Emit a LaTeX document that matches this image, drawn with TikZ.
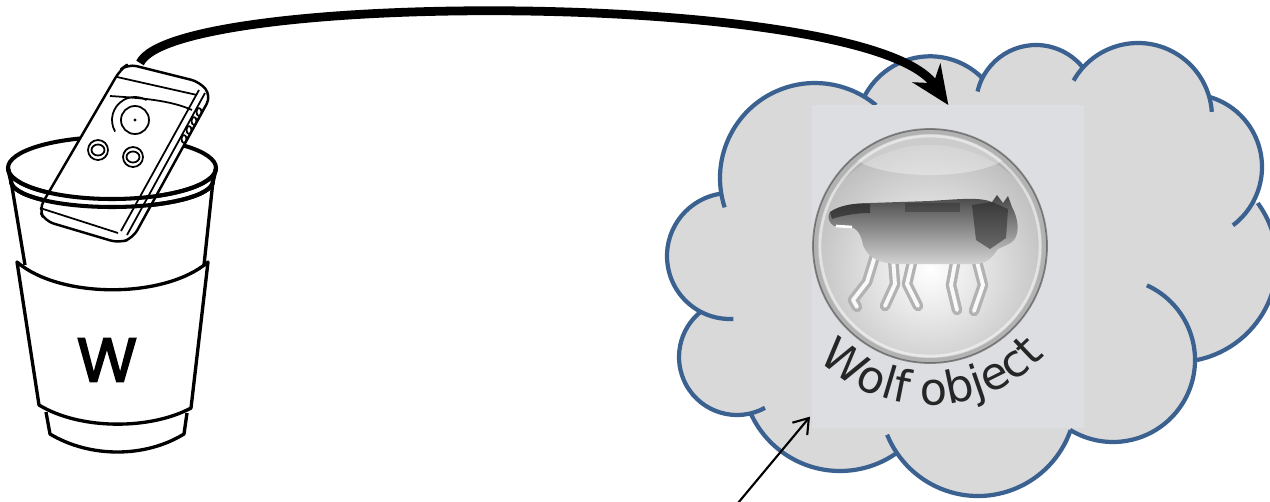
\documentclass[tikz,border=0pt]{standalone}
\usepackage{fontspec}
\newfontfamily\cupfont{Poppins}[BoldFont=Poppins, BoldFeatures={FakeBold=3}]
\newfontfamily\labelfont{DejaVu Sans}
\usetikzlibrary{arrows.meta,decorations.text,calc}
\definecolor{cloudfill}{HTML}{D9D9D9}
\definecolor{cloudedge}{HTML}{3A6190}
\definecolor{cardfill}{HTML}{DDDEE1}
\tikzset{
  cupline/.style={line width=1.9pt, line join=round},
  rimline/.style={line width=2.3pt},
  remoteline/.style={line width=1pt, line join=round},
  cloudline/.style={draw=cloudedge, line width=2.4pt},
  bigarrow/.style={line width=5pt, -{Stealth[length=22pt,width=19pt,inset=7pt]}},
  pointer/.style={line width=1.2pt, -{Straight Barb[length=8pt,width=11pt]}},
  leg/.style={line width=6pt, line cap=round, line join=round, draw=gray!60},
  legcore/.style={line width=2.2pt, line cap=round, line join=round, draw=white!95!gray},
}
\begin{document}
\begin{tikzpicture}[x=0.02cm,y=-0.02cm]
\useasboundingbox (0,0) rectangle (1270,501);
\clip (0,0) rectangle (1270,501);

% ---------- cup ----------
\draw[cupline] (11,181) -- (25,265);
\draw[cupline] (213,181) -- (204,265);
\draw[cupline, fill=white] (17,262) .. controls (60,299) and (165,299) .. (208,262)
  -- (191,408) .. controls (150,430) and (80,430) .. (39,405) -- cycle;
\draw[cupline] (46,412) -- (50,434) .. controls (90,458) and (145,458) .. (184,434) -- (187,413);
\node[font=\cupfont\bfseries\fontsize{35}{35}\selectfont, inner sep=0] (cupletter) at (107,360) {W};
% rim
\draw[rimline] (112,168) ellipse[x radius=104, y radius=31];
\draw[rimline] (8,168) -- (11,181) arc[start angle=180, end angle=0, x radius=101, y radius=26] -- (216,168);

% ---------- remote ----------
\begin{scope}[remoteline]
  \filldraw[fill=white, rounded corners=5, line width=1.4pt] (120,70) -- (128,64) -- (200,82) -- (211,96)
    -- (133,238) -- (119,243) -- (45,221) -- (39,209) -- cycle;
  \draw (199,90) -- (121,231);
  \draw (205,93) -- (127,235);
  \draw (117,77) -- (197,95);
  \draw (110,96) .. controls (140,98) and (170,100) .. (192,110);
  \draw (135,120) circle[radius=14];
  \fill (135,120) circle[radius=1.6];
  \draw ([shift={(135,120)}]150:23) arc[start angle=150, end angle=300, radius=23];
  \draw (98,150) circle[radius=10];
  \draw (98,150) ellipse[x radius=6.5, y radius=5.5];
  \draw (133,157) circle[radius=10];
  \draw (133,157) ellipse[x radius=6.5, y radius=5.5];
  \foreach \p in {(199,112),(194,121),(189,130),(184,139)}
    \draw \p ellipse[x radius=2.5, y radius=4];
  \draw (40,208) -- (118,233);
\end{scope}
% front of the rim passes over the remote
\draw[rimline] (8,168) arc[start angle=180, end angle=0, x radius=104, y radius=31];
\draw[rimline] (11,181) arc[start angle=180, end angle=0, x radius=101, y radius=26];
\coordinate (remotetip) at (140,63);

% ---------- cloud ----------
\fill[cloudfill]
  ([shift={(815,178)}]169.6:95) arc[start angle=169.6,end angle=303.5,radius=95]
  -- ([shift={(930,130)}]208.3:73.7) arc[start angle=208.3,end angle=315,radius=73.7]
  -- ([shift={(1036,105)}]206.6:60) arc[start angle=206.6,end angle=322,radius=60]
  -- ([shift={(1138,117)}]223.3:74) arc[start angle=223.3,end angle=346.4,radius=74]
  -- ([shift={(1189,167)}]285.8:73) arc[start angle=285.8,end angle=387.6,radius=73]
  -- ([shift={(1177,262)}]323.9:100) arc[start angle=323.9,end angle=438.5,radius=100]
  -- ([shift={(1113,360)}]0:82) arc[start angle=0,end angle=121.6,radius=82]
  -- ([shift={(978,398)}]19.2:98) arc[start angle=19.2,end angle=144.5,radius=98]
  -- ([shift={(840,373)}]54.7:98) arc[start angle=54.7,end angle=156.6,radius=98]
  -- ([shift={(737,357)}]76.7:58) arc[start angle=76.7,end angle=231.5,radius=58]
  -- ([shift={(730,256)}]121.6:63) arc[start angle=121.6,end angle=262.5,radius=63]
  -- cycle;
\foreach \cx/\cy/\r/\a/\b in {815/178/95/162/310, 930/130/73.7/206/315,
    1036/105/60/193/322, 1138/117/74/209.5/356, 1189/167/73/285.8/413,
    1177/262/100/323.9/438.5, 1113/360/82/-65.6/121.6, 978/398/98/19.2/158,
    840/373/98/54.7/156.6, 737/357/58/61.2/231.5, 730/256/63/87/262.5}
  \draw[cloudline] ([shift={(\cx,\cy)}]\a:\r) arc[start angle=\a,end angle=\b,radius=\r];

% ---------- wolf card ----------
\node[fill=cardfill, inner sep=0, minimum width=5.44cm, minimum height=6.46cm, anchor=north west] (wolfcard) at (812,105) {};
\fill[gray!60] (930,246) circle[radius=117];
\begin{scope}
  \clip (930,246) circle[radius=112];
  \shade[inner color=white, outer color=gray!50] (930,270) circle[radius=125];
  \fill[white, opacity=0.35] (930,150) ellipse[x radius=80, y radius=25];
\end{scope}
\draw[gray!45!black, opacity=0.55, line width=1pt] (930,246) circle[radius=117];
\draw[white, opacity=0.5, line width=1.5pt] (930,246) circle[radius=110];

% wolf
\foreach \legpath in {{(875,256) -- (867,282) -- (853,300) -- (857,307)},
    {(893,258) -- (895,284) -- (885,306)}, {(913,258) -- (907,284) -- (918,306)},
    {(956,258) -- (951,285) -- (957,310)}, {(976,258) -- (983,285) -- (974,311)}}
  \draw[leg] \legpath;
\foreach \legpath in {{(875,256) -- (867,282) -- (853,300) -- (857,307)},
    {(893,258) -- (895,284) -- (885,306)}, {(913,258) -- (907,284) -- (918,306)},
    {(956,258) -- (951,285) -- (957,310)}, {(976,258) -- (983,285) -- (974,311)}}
  \draw[legcore] \legpath;
\shade[top color=gray!55!black, bottom color=gray!35]
  (830,212) .. controls (840,205) and (855,203) .. (870,203) -- (930,201)
  .. controls (960,199) and (980,197) .. (992,202) -- (997,195) -- (1003,203) -- (1008,196)
  -- (1012,207) .. controls (1018,218) and (1020,232) .. (1014,240)
  .. controls (1008,246) and (1000,247) .. (997,250)
  .. controls (992,258) and (986,264) .. (975,264) -- (900,264)
  .. controls (880,264) and (868,258) .. (863,245)
  .. controls (861,235) and (858,228) .. (848,226) -- (834,226)
  .. controls (828,222) and (827,216) .. (830,212) -- cycle;
\fill[gray!30!black, opacity=0.65] (830,212) .. controls (840,205) and (855,203) .. (870,204)
  -- (870,213) .. controls (855,213) and (840,216) .. (832,219) -- cycle;
\fill[gray!25!black, opacity=0.5] (972,205) -- (992,202) -- (1008,209) -- (1006,238) -- (990,249) -- (976,240) -- cycle;
\fill[gray!25!black, opacity=0.35] (905,203) rectangle (960,212);
\draw[white, line width=1.5pt] (836,226) -- (852,227);

% curved caption
\path[decorate, decoration={text along path, text align=center, text color=black!85,
    text={|\labelfont\fontsize{25.5}{25.5}\selectfont|Wolf object}}]
  ([shift={(930,247)}]134:158) arc[start angle=134, end angle=44, radius=158];

% ---------- connectors ----------
\draw[bigarrow] (remotetip) .. controls (175,-10) and (870,-10) .. (wolfcard.north);
\coordinate (pointertail) at (738,503);
\draw[pointer] (pointertail) -- ($(wolfcard.south west)+(-2,-12)$);
\end{tikzpicture}
\end{document}
